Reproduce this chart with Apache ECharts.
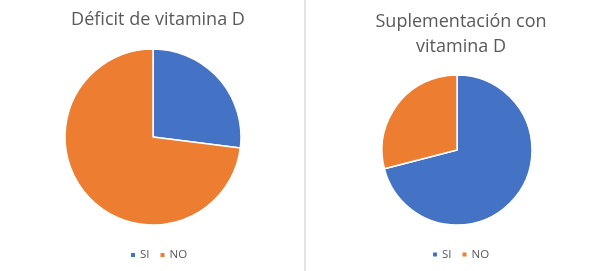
<!DOCTYPE html>
<html>
<head>
<meta charset="utf-8">
<script src="https://cdn.jsdelivr.net/npm/echarts@6/dist/echarts.min.js"></script>
<style>
  html, body { margin: 0; padding: 0; background: #fff; }
  #chart { width: 600px; height: 271px; }
</style>
</head>
<body>
<div id="chart"></div>
<script>
// categorias y valores
var categorias = ['SI', 'NO'];
var deficitValores = [27, 73];
var suplementoValores = [71, 29];
var titulos = ['Déficit de vitamina D', 'Suplementación con\nvitamina D'];
var colores = ['#4472C4', '#ED7D31'];

var myChart = echarts.init(document.getElementById('chart'), null, { renderer: 'canvas' });

var toData = function(valores) {
	var out = [];
	for (var i = 0; i < categorias.length; i++) {
		out.push({ name: categorias[i], value: valores[i] });
	}
	return out;
};

var fuente = '"Open Sans", sans-serif';

var option = {
	color: colores,
	animation: false,
	title: [
		{
			text: titulos[0],
			left: 153, top: 6, padding: 5,
			textAlign: 'center',
			textStyle: { fontFamily: fuente, fontSize: 18, fontWeight: 'normal', color: '#595959' }
		},
		{
			text: titulos[1],
			left: 456, top: 4, padding: 5,
			textAlign: 'center',
			textStyle: { fontFamily: fuente, fontSize: 18, fontWeight: 'normal', color: '#595959', lineHeight: 25 }
		}
	],
	legend: [
		{
			data: categorias,
			left: 129, top: 249, padding: 0,
			icon: 'rect', itemWidth: 6, itemHeight: 6, itemGap: 9,
			textStyle: { fontFamily: fuente, fontSize: 11.5, color: '#595959', padding: [0, 0, 0, -1] }
		},
		{
			data: categorias,
			left: 431, top: 248.5, padding: 0,
			icon: 'rect', itemWidth: 6, itemHeight: 6, itemGap: 9,
			textStyle: { fontFamily: fuente, fontSize: 11.5, color: '#595959', padding: [0, 0, 0, -1] }
		}
	],
	series: [
		{
			name: 'Déficit',
			type: 'pie',
			center: [153, 137],
			radius: [0, 88],
			startAngle: 90,
			clockwise: true,
			label: { show: false },
			labelLine: { show: false },
			itemStyle: { borderColor: '#fff', borderWidth: 1.5 },
			emphasis: { disabled: true },
			data: toData(deficitValores)
		},
		{
			name: 'Suplementación',
			type: 'pie',
			center: [457, 150],
			radius: [0, 75],
			startAngle: 90,
			clockwise: true,
			label: { show: false },
			labelLine: { show: false },
			itemStyle: { borderColor: '#fff', borderWidth: 1.5 },
			emphasis: { disabled: true },
			data: toData(suplementoValores)
		}
	],
	graphic: [
		{
			type: 'line',
			shape: { x1: 305, y1: 0, x2: 305, y2: 271 },
			style: { stroke: '#d9d9d9', lineWidth: 1.5 }
		}
	]
};

myChart.setOption(option);
</script>
</body>
</html>
